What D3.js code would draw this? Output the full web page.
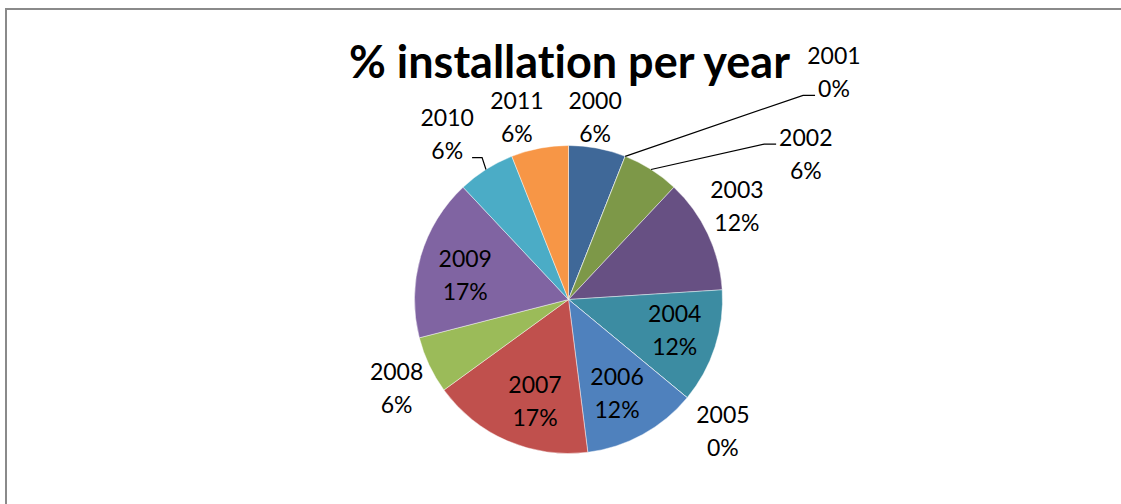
<!DOCTYPE html>
<html>
<head>
<meta charset="utf-8">
<script src="https://cdn.jsdelivr.net/npm/d3@7"></script>
<style>
  html, body { margin: 0; padding: 0; background: #fff; }
  svg { display: block; }
  text { font-family: Lato, "Open Sans", sans-serif; fill: #000;
         font-variant-ligatures: none; font-feature-settings: "liga" 0, "clig" 0; }
</style>
</head>
<body>
<svg id="chart" width="1121" height="504"></svg>
<script>
// Share of installations per year (percent)
const years = ["2000", "2001", "2002", "2003", "2004", "2005",
               "2006", "2007", "2008", "2009", "2010", "2011"];
const shares = [6, 0, 6, 12, 12, 0, 12, 17, 6, 17, 6, 6];
const sliceColors = ["#3f6898", "#9a403e", "#7d9848", "#675083", "#3c8ca2", "#c67838",
                     "#4f81bd", "#c0504d", "#9bbb59", "#8064a2", "#4bacc6", "#f79646"];
const chartTitle = "% installation per year";

const W = 1121, H = 504;
const cx = 568.5, cy = 299.5, R = 154;

// Label placement: inside labels sit on the mid-angle at 107px, outside ones at 190px,
// then a small nudge; some outside labels are pulled away and joined with a leader line.
const labelLayout = {
  "2000": { inside: false, dx: -9,    dy: 4.5 },
  "2001": { inside: false, dx: 195.5, dy: -50.5, leader: "right", line: 2 },
  "2002": { inside: false, dx: 135.5, dy: 15,    leader: "right", line: 1 },
  "2003": { inside: false, dx: -3.5,  dy: -12.5 },
  "2004": { inside: true,  dx: 4.5,   dy: -2.5 },
  "2005": { inside: false, dx: 8,     dy: 10.5 },
  "2006": { inside: true,  dx: -3,    dy: 0 },
  "2007": { inside: true,  dx: 9,     dy: 4 },
  "2008": { inside: false, dx: 0,     dy: 8 },
  "2009": { inside: true,  dx: -0.5,  dy: 6 },
  "2010": { inside: false, dx: -19.5, dy: -4.5, leader: "left", line: 2 },
  "2011": { inside: false, dx: -16,   dy: 4.5 }
};

const svg = d3.select("#chart");

// Outer frame
svg.append("rect")
  .attr("x", 6).attr("y", 9)
  .attr("width", W + 20).attr("height", H + 20)
  .attr("fill", "none")
  .attr("stroke", "#8a8a8a")
  .attr("stroke-width", 2);

// Title, fitted to its width
const title = svg.append("text")
  .attr("x", 569.5).attr("y", 77.5)
  .attr("text-anchor", "middle")
  .style("font-weight", 700)
  .style("font-size", "43px")
  .text(chartTitle);
const tw = title.node().getComputedTextLength();
title.style("font-size", (43 * 441 / tw).toFixed(2) + "px");

const data = years.map((y, i) => ({ year: y, value: shares[i], color: sliceColors[i] }));

const pie = d3.pie().sort(null).value(d => d.value).startAngle(0).endAngle(2 * Math.PI);
const arcs = pie(data);
const arc = d3.arc().innerRadius(0).outerRadius(R);

const g = svg.append("g").attr("transform", `translate(${cx},${cy})`);

g.selectAll("path.slice")
  .data(arcs)
  .join("path")
  .attr("class", "slice")
  .attr("d", arc)
  .attr("fill", d => d.data.color)
  .attr("stroke", "#ffffff")
  .attr("stroke-opacity", 0.55)
  .attr("stroke-width", 0.8);

const polar = (a, r) => [r * Math.sin(a), -r * Math.cos(a)];

const lineGap = 33;
const labels = arcs.map(d => {
  const lay = labelLayout[d.data.year];
  const mid = (d.startAngle + d.endAngle) / 2;
  const base = polar(mid, lay.inside ? 107 : 190);
  const x = base[0] + lay.dx;
  const c = base[1] + lay.dy;
  return { d, lay, mid, x, b1: c - 8.5, b2: c - 8.5 + lineGap };
});

const lg = g.append("g");
labels.forEach(L => {
  const t = lg.append("text")
    .attr("text-anchor", "middle")
    .style("font-size", "23px");
  t.append("tspan").attr("x", L.x).attr("y", L.b1).text(L.d.data.year);
  t.append("tspan").attr("x", L.x).attr("y", L.b2).text(d3.format(".0f")(L.d.data.value) + "%");

  if (L.lay.leader) {
    const edge = polar(L.mid, R);
    const yLine = (L.lay.line === 1 ? L.b1 : L.b2) - 1.5;
    const ref = t.selectAll("tspan").nodes()[L.lay.line - 1].getBBox();
    let end, elbow;
    if (L.lay.leader === "right") {
      // approach from the pie toward the label's left side
      end = [ref.x - 3, yLine];
      elbow = [end[0] - 12, yLine];
    } else {
      // approach from the pie toward the label's right side
      end = [ref.x + ref.width + 9, yLine];
      elbow = [end[0] + 10, yLine];
    }
    lg.append("path")
      .attr("d", d3.line()([edge, elbow, end]))
      .attr("fill", "none")
      .attr("stroke", "#000")
      .attr("stroke-width", 1.2);
  }
});
</script>
</body>
</html>
